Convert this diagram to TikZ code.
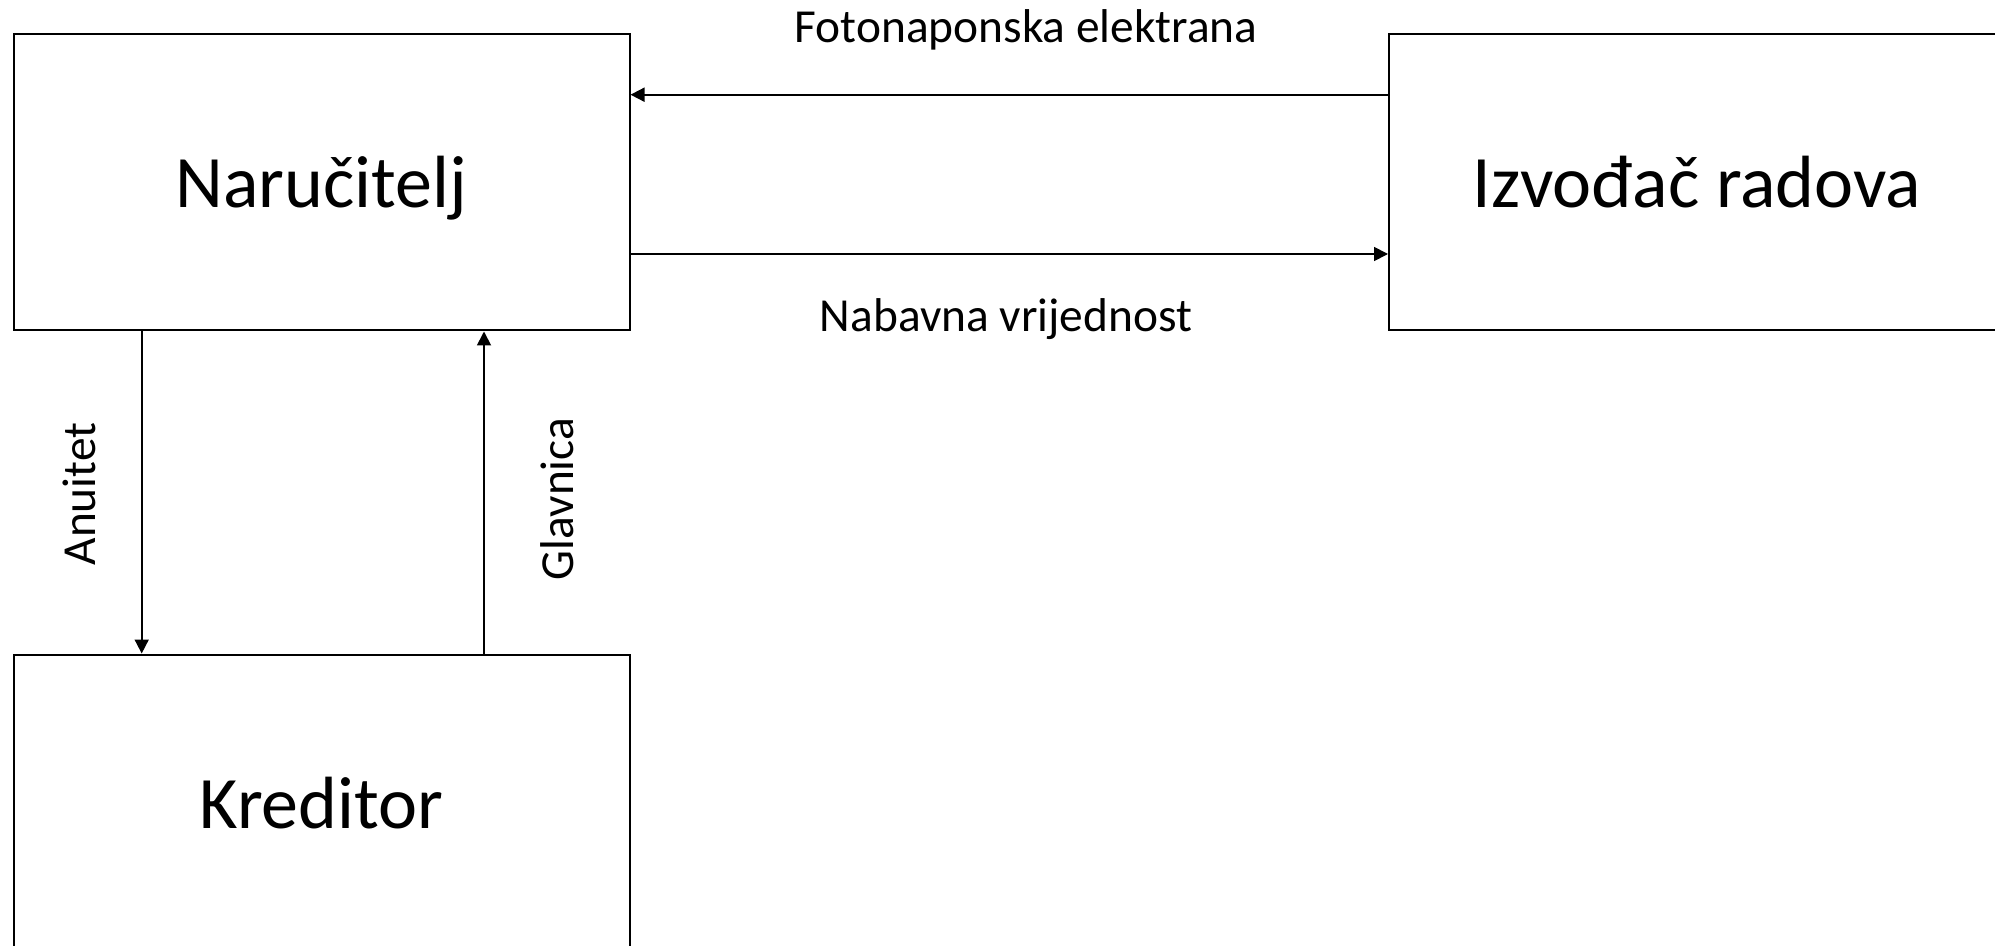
\documentclass[tikz,border=0pt]{standalone}
\usepackage{fontspec}
\setmainfont{Carlito}
\usetikzlibrary{arrows.meta}
\tikzset{
  party/.style={draw, line width=1pt, minimum width=308pt, minimum height=148pt,
    inner sep=0pt, text height=29.75pt, text depth=4.25pt,
    font=\fontsize{37}{44}\selectfont},
  flow/.style={draw, line width=0.9pt, -{Triangle[length=7pt,width=7pt]}},
  lbl/.style={font=\fontsize{23.7}{28}\selectfont, inner sep=0pt},
}
\begin{document}
\begin{tikzpicture}[x=0.5pt, y=-0.5pt]
  \useasboundingbox (0,0) rectangle (1995,946);
  \clip (0,0) rectangle (1995,946);
  \fill[white] (0,0) rectangle (1995,946);

  % parties
  \node[party] (nar) at (321.5,182.5) {Naručitelj};
  \node[party] (izv) at (1697,182.5) {Izvođač radova};
  \node[party] (kre) at (321.5,802.5) {Kreditor};

  % helper levels for the horizontal and vertical flows
  \coordinate (ytop) at (0,94.7);
  \coordinate (ybot) at (0,254);
  \coordinate (xanu) at (141.7,0);
  \coordinate (xgla) at (484,0);

  % flows between contractor and client
  \draw[flow] (izv.west |- ytop) -- (nar.east |- ytop);
  \draw[flow] (nar.east |- ybot) -- (izv.west |- ybot);

  % flows between client and creditor
  \draw[flow] (nar.south -| xanu) -- (kre.north -| xanu);
  \draw[flow] (kre.north -| xgla) -- (nar.south -| xgla);

  % labels
  \node[lbl] (fe) at (1026,30) {Fotonaponska elektrana};
  \node[lbl] (nv) at (1006,319) {Nabavna vrijednost};
  \node[lbl, rotate=90] (anu) at (79,494) {Anuitet};
  \node[lbl, rotate=90] (gla) at (557,499) {Glavnica};
\end{tikzpicture}
\end{document}
